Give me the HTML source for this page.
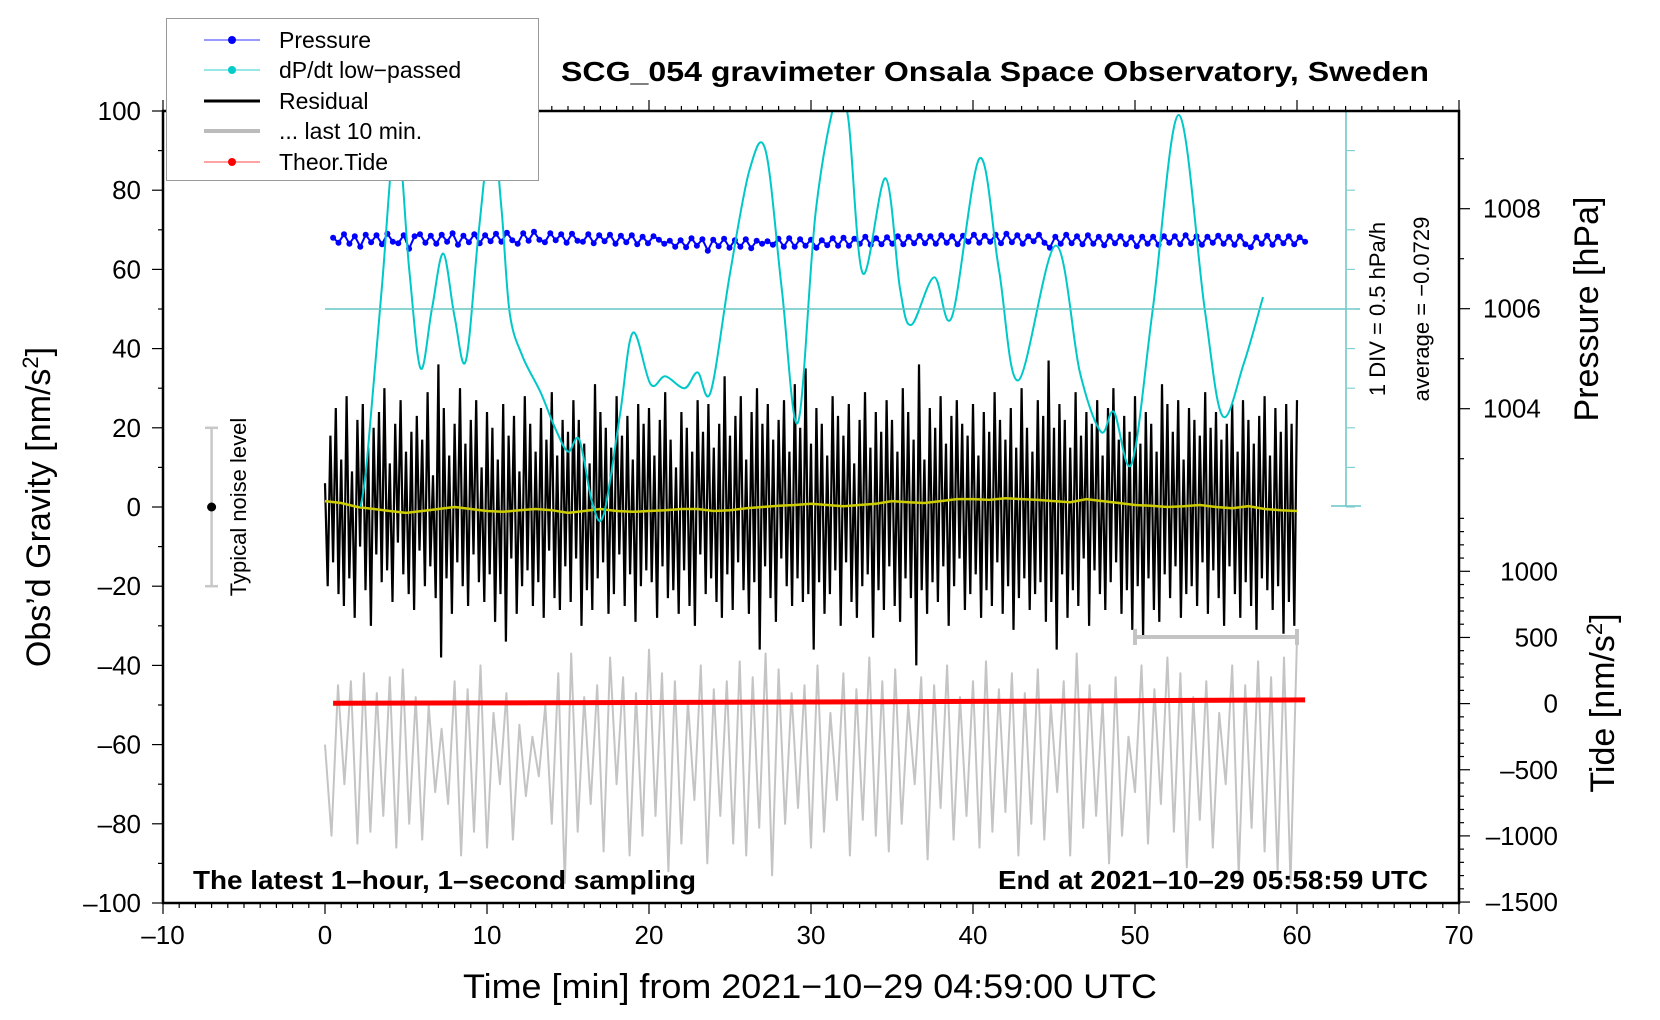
<!DOCTYPE html>
<html><head><meta charset="utf-8"><style>
html,body{margin:0;padding:0;background:#fff;}
svg{display:block;font-family:"Liberation Sans",sans-serif;}
</style></head><body>
<svg id="chart" width="1660" height="1020" viewBox="0 0 1660 1020" xmlns="http://www.w3.org/2000/svg">
<rect x="0" y="0" width="1660" height="1020" fill="#fff"/>
<g id="plot"></g>
<g id="axes"></g>
<text x="995" y="81" text-anchor="middle" font-weight="bold" font-size="28" textLength="868" lengthAdjust="spacingAndGlyphs">SCG_054 gravimeter Onsala Space Observatory, Sweden</text>
<text x="193" y="889" font-weight="bold" font-size="26" textLength="503" lengthAdjust="spacingAndGlyphs">The latest 1–hour, 1–second sampling</text>
<text x="1428" y="889" text-anchor="end" font-weight="bold" font-size="26" textLength="430" lengthAdjust="spacingAndGlyphs">End at 2021–10–29 05:58:59 UTC</text>
<text x="810" y="998" text-anchor="middle" font-size="34" textLength="694" lengthAdjust="spacingAndGlyphs">Time [min] from 2021−10−29 04:59:00 UTC</text>
<text transform="translate(50,507) rotate(-90)" text-anchor="middle" font-size="34">Obs’d Gravity [nm/s<tspan font-size="22" dy="-12">2</tspan><tspan dy="12">]</tspan></text>
<text transform="translate(1598,309) rotate(-90)" text-anchor="middle" font-size="34">Pressure [hPa]</text>
<text transform="translate(1614,703) rotate(-90)" text-anchor="middle" font-size="34">Tide [nm/s<tspan font-size="22" dy="-12">2</tspan><tspan dy="12">]</tspan></text>
<text transform="translate(1385,309) rotate(-90)" text-anchor="middle" font-size="22">1 DIV = 0.5 hPa/h</text>
<text transform="translate(1429,309) rotate(-90)" text-anchor="middle" font-size="22">average = −0.0729</text>
<text transform="translate(246,507) rotate(-90)" text-anchor="middle" font-size="22">Typical noise level</text>
<g>
<rect x="166.5" y="18.5" width="372" height="162" fill="#fff" stroke="#999" stroke-width="1"/>
<line x1="204" y1="40" x2="260" y2="40" stroke="#33f" stroke-width="1"/><circle cx="232" cy="40" r="4" fill="#00f"/>
<text x="279" y="48" font-size="23">Pressure</text>
<line x1="204" y1="70" x2="260" y2="70" stroke="#3cc" stroke-width="1"/><circle cx="232" cy="70" r="4" fill="#0cc"/>
<text x="279" y="78" font-size="23">dP/dt low−passed</text>
<line x1="204" y1="101" x2="260" y2="101" stroke="#000" stroke-width="3"/>
<text x="279" y="109" font-size="23">Residual</text>
<line x1="204" y1="131" x2="260" y2="131" stroke="#bbb" stroke-width="4"/>
<text x="279" y="139" font-size="23">... last 10 min.</text>
<line x1="204" y1="162" x2="260" y2="162" stroke="#f44" stroke-width="1"/><circle cx="232" cy="162" r="4" fill="#f00"/>
<text x="279" y="170" font-size="23">Theor.Tide</text>
</g>
</svg>
<script>
const dpdtTimes=[2.2,2.6,3.5,4.4,5.2,5.9,6.6,7.3,8.0,8.7,9.5,10.3,10.9,11.4,12.2,13.3,14.2,15.0,15.7,16.5,17.2,18.2,19.0,20.1,21.0,22.2,23.0,23.8,25.0,26.2,27.2,28.2,29.2,30.3,31.6,32.3,33.2,34.6,35.5,36.2,37.6,38.7,40.4,41.6,42.8,45.1,46.6,47.9,48.7,49.8,51.1,52.7,54.3,55.4,56.7,57.9];
const dpdtValues=[-2.5,-1.9,0.25,2.25,0.5,-0.75,0,0.7,-0.1,-0.65,1.0,2.3,1.25,-0.05,-0.6,-1.05,-1.5,-1.8,-1.65,-2.45,-2.6,-1.35,-0.3,-0.95,-0.85,-1.0,-0.8,-1.05,0.45,1.75,2.0,0.25,-1.43,1.25,2.7,2.4,0.45,1.65,0.25,-0.2,0.4,-0.1,1.9,0.5,-0.9,0.8,-0.8,-1.55,-1.3,-1.95,0,2.45,0,-1.35,-0.7,0.15];
const residualValues=[6,-20,18,-14,25,-22,12,-25,28,-18,9,-28,22,-10,26,-21,15,-30,20,-12,24,-19,30,-16,11,-24,21,-9,27,-17,
14,-22,19,-26,23,-11,17,-20,29,-15,8,-23,36,-38,25,-18,13,-27,21,-14,30,-20,16,-25,22,-12,27,-19,10,-24,
24,-17,20,-29,12,-22,26,-34,18,-13,23,-27,9,-20,28,-16,21,-25,14,-19,25,-28,17,-11,29,-23,13,-26,22,-15,
19,-24,27,-13,22,-30,16,-21,11,-26,31,-18,24,-14,20,-27,15,-22,28,-12,18,-25,23,-17,12,-29,26,-20,21,-16,
25,-19,13,-28,22,-15,29,-23,17,-21,10,-27,24,-16,20,-25,14,-30,27,-12,19,-22,26,-18,15,-24,21,-28,33,-17,
18,-26,23,-14,28,-21,12,-27,24,-19,30,-36,21,-15,26,-23,17,-29,22,-13,27,-20,14,-25,31,-18,20,-24,35,-22,
16,-36,25,-19,21,-27,13,-22,28,-16,23,-30,18,-14,26,-24,11,-28,22,-20,29,-17,15,-33,24,-21,19,-26,27,-15,
22,-25,14,-29,30,-18,24,-23,17,-40,36,-21,12,-27,25,-19,20,-24,28,-15,16,-30,23,-20,27,-13,21,-26,18,-22,
26,-17,13,-28,24,-21,19,-25,29,-14,22,-27,17,-20,25,-31,15,-23,30,-18,20,-26,14,-22,27,-19,23,-29,37,-24,
20,-36,26,-17,22,-28,15,-21,29,-25,18,-13,24,-30,21,-16,27,-22,13,-26,25,-19,30,-14,17,-27,23,-21,19,-31,
28,-20,16,-33,24,-18,21,-26,14,-29,31,-17,26,-23,19,-15,27,-28,12,-22,25,-20,22,-25,18,-14,29,-27,20,-16,
24,-23,17,-30,21,-15,26,-22,14,-28,27,-19,22,-25,16,-31,23,-18,28,-21,13,-26,25,-20,19,-32,26,-24,21,-30,27];
const smoothValues=[1.5,1,0,-0.5,-1,-1.5,-1,-0.5,0,-0.5,-1,-1.2,-0.8,-0.5,-0.8,-1.5,-1,-0.5,-1,-1.2,-1,-0.8,-0.5,-0.5,-1,-0.8,-0.3,0,0.3,0.5,0.8,0.5,0.2,0.5,0.8,1.5,1.2,1.0,1.5,2,2,1.8,2.2,2,1.8,1.5,1.2,2,1.5,1,0.5,0.3,0,0.2,0.5,0,-0.3,0.2,-0.5,-0.8,-1];
const last10Values=[-60,-83,-45,-70,-44,-85,-42,-82,-47,-78,-43,-86,-41,-80,-48,-84,-50,-72,-56,-75,-44,-88,-46,-82,-40,-86,-52,-70,-47,-84,-55,-73,-58,-68,-50,-80,-42,-95,-37,-82,-48,-75,-45,-87,-38,-70,-43,-88,-47,-83,-36,-78,-42,-92,-44,-85,-49,-74,-40,-90,-46,-78,-44,-85,-39,-88,-43,-81,-37,-93,-41,-80,-47,-76,-45,-86,-40,-82,-52,-74,-42,-88,-46,-79,-38,-83,-44,-87,-41,-80,-50,-70,-43,-89,-45,-76,-40,-84,-48,-78,-44,-86,-39,-82,-46,-77,-42,-88,-47,-80,-41,-84,-50,-72,-44,-88,-37,-81,-45,-78,-49,-90,-43,-83,-58,-72,-40,-85,-46,-75,-38,-82,-42,-91,-48,-79,-44,-86,-52,-70,-40,-93,-45,-81,-39,-87,-43,-92,-38,-95,-33];
const pressureValues=[1007.42,1007.32,1007.49,1007.30,1007.45,1007.24,1007.48,1007.33,1007.47,1007.29,1007.50,1007.34,1007.31,1007.47,1007.20,1007.45,1007.49,1007.32,1007.46,1007.30,1007.48,1007.34,1007.51,1007.28,1007.46,1007.33,1007.49,1007.31,1007.47,1007.35,
1007.50,1007.34,1007.52,1007.37,1007.30,1007.51,1007.36,1007.54,1007.38,1007.33,1007.51,1007.37,1007.49,1007.32,1007.50,1007.36,1007.34,1007.49,1007.31,1007.47,1007.35,1007.48,1007.30,1007.46,1007.33,1007.47,1007.29,1007.44,1007.31,1007.45,
1007.38,1007.30,1007.36,1007.24,1007.37,1007.23,1007.41,1007.26,1007.39,1007.16,1007.38,1007.25,1007.40,1007.22,1007.37,1007.24,1007.39,1007.21,1007.36,1007.30,1007.35,1007.28,1007.40,1007.24,1007.41,1007.24,1007.39,1007.26,1007.38,1007.22,
1007.37,1007.27,1007.41,1007.26,1007.42,1007.26,1007.40,1007.30,1007.44,1007.28,1007.41,1007.29,1007.43,1007.30,1007.45,1007.29,1007.44,1007.31,1007.46,1007.31,1007.45,1007.30,1007.47,1007.32,1007.45,1007.29,1007.46,1007.34,1007.48,1007.32,
1007.46,1007.34,1007.48,1007.31,1007.50,1007.33,1007.47,1007.30,1007.45,1007.35,1007.48,1007.32,1007.22,1007.44,1007.30,1007.48,1007.31,1007.45,1007.29,1007.47,1007.30,1007.44,1007.27,1007.45,1007.31,1007.45,1007.29,1007.43,1007.25,1007.44,
1007.30,1007.44,1007.28,1007.45,1007.32,1007.45,1007.29,1007.47,1007.31,1007.45,1007.28,1007.44,1007.32,1007.46,1007.30,1007.44,1007.28,1007.45,1007.29,1007.23,1007.43,1007.30,1007.46,1007.28,1007.44,1007.31,1007.45,1007.29,1007.43,1007.34];
const tideTimes=[0.5,10,20,30,40,50,60.5];
const tideValues=[2,5,8,12,17,22,28];
const xTicks=[-10,0,10,20,30,40,50,60,70];
const gTicks=[-100,-80,-60,-40,-20,0,20,40,60,80,100];
const pTicks=[1004,1006,1008];
const tTicks=[-1500,-1000,-500,0,500,1000];

const NS='http://www.w3.org/2000/svg';
const X=t=>163+(t+10)*16.2;
const YG=g=>507-g*3.96;
const YP=p=>308.7-(p-1006)*50;
const YT=v=>703.6-v*0.1323;
const YC=v=>YG(50+v*20);
const plot=document.getElementById('plot'), axes=document.getElementById('axes');
function mk(tag,attrs,parent){const e=document.createElementNS(NS,tag);for(const k in attrs)e.setAttribute(k,attrs[k]);parent.appendChild(e);return e;}

const defs=mk('defs',{},plot);
const cp=mk('clipPath',{id:'clip'},defs);
mk('rect',{x:163,y:111,width:1296,height:792},cp);
const pg=mk('g',{'clip-path':'url(#clip)'},plot);

let d='';last10Values.forEach((v,i)=>{const t=i*60/(last10Values.length-1);d+=(i?'L':'M')+X(t).toFixed(1)+','+YG(v).toFixed(1);});
let el=mk('path',{d:d,fill:'none',stroke:'#c4c4c4','stroke-width':2,'stroke-linejoin':'round'},pg);



d='';residualValues.forEach((v,i)=>{const t=i*60/(residualValues.length-1);d+=(i?'L':'M')+X(t).toFixed(1)+','+YG(v).toFixed(1);});
el=mk('path',{d:d,fill:'none',stroke:'#000','stroke-width':2.2},pg);



d='';smoothValues.forEach((v,i)=>{const t=i*60/(smoothValues.length-1);d+=(i?'L':'M')+X(t).toFixed(1)+','+YG(v).toFixed(1);});
el=mk('path',{d:d,fill:'none',stroke:'#cccc00','stroke-width':2.5},pg);



d='';tideTimes.forEach((t,i)=>{d+=(i?'L':'M')+X(t).toFixed(1)+','+YT(tideValues[i]).toFixed(1);});
el=mk('path',{d:d,fill:'none',stroke:'#f00','stroke-width':5},pg);



el=mk('line',{x1:X(0),y1:YC(0),x2:1360,y2:YC(0),stroke:'#66c6c6','stroke-width':1.5},plot);


el=mk('line',{x1:1346,y1:111,x2:1346,y2:506,stroke:'#66c6c6','stroke-width':1.5},plot);


mk('line',{x1:1331,y1:506,x2:1361,y2:506,stroke:'#66c6c6','stroke-width':1.5},plot);
for(let k=0;k<=10;k++){const y=111+k*39.6;mk('line',{x1:1346,y1:y,x2:1355,y2:y,stroke:'#88d0d0','stroke-width':1.2},plot);}

d='';pressureValues.forEach((p,i)=>{const t=0.5+i*60/(pressureValues.length-1);d+=(i?'L':'M')+X(t).toFixed(1)+','+YP(p).toFixed(1);});
el=mk('path',{d:d,fill:'none',stroke:'#00f','stroke-width':2},pg);


pressureValues.forEach((p,i)=>{const t=0.5+i*60/(pressureValues.length-1);
 const c=mk('circle',{cx:X(t).toFixed(1),cy:YP(p).toFixed(1),r:3,fill:'#00f'},pg);
 
 
});

const pts=dpdtTimes.map((t,i)=>[X(t),YC(dpdtValues[i])]);
d='M'+pts[0][0]+','+pts[0][1];
for(let i=0;i<pts.length-1;i++){const p0=pts[Math.max(0,i-1)],p1=pts[i],p2=pts[i+1],p3=pts[Math.min(pts.length-1,i+2)];
 const c1=[p1[0]+(p2[0]-p0[0])/6,p1[1]+(p2[1]-p0[1])/6],c2=[p2[0]-(p3[0]-p1[0])/6,p2[1]-(p3[1]-p1[1])/6];
 d+='C'+c1.map(v=>v.toFixed(1)).join(',')+' '+c2.map(v=>v.toFixed(1)).join(',')+' '+p2.map(v=>v.toFixed(1)).join(',');}
el=mk('path',{d:d,fill:'none',stroke:'#00c8c8','stroke-width':2},pg);



el=mk('g',{stroke:'#c8c8c8','stroke-width':2.5},plot);


mk('line',{x1:211.6,y1:YG(20),x2:211.6,y2:YG(-20)},el);
mk('line',{x1:205,y1:YG(20),x2:218,y2:YG(20)},el);
mk('line',{x1:205,y1:YG(-20),x2:218,y2:YG(-20)},el);
mk('circle',{cx:211.6,cy:YG(0),r:4.5,fill:'#000',stroke:'none'},plot);

el=mk('g',{stroke:'#c4c4c4','stroke-width':4},plot);


mk('line',{x1:X(50),y1:637,x2:X(60),y2:637},el);
mk('line',{x1:X(50),y1:629,x2:X(50),y2:645},el);
mk('line',{x1:X(60),y1:629,x2:X(60),y2:645},el);

mk('rect',{x:163,y:111,width:1296,height:792,fill:'none',stroke:'#000','stroke-width':2.5},axes);
for(let t=-10;t<=70;t++){const major=t%10===0;const x=X(t);
 mk('line',{x1:x,y1:903,x2:x,y2:903+(major?11:5),stroke:'#000','stroke-width':1.2},axes);
 mk('line',{x1:x,y1:111,x2:x,y2:111-(major?11:5),stroke:'#000','stroke-width':1.2},axes);}
xTicks.forEach(t=>{const e=mk('text',{x:X(t),y:944,'text-anchor':'middle','font-size':26},axes);e.textContent=String(t).replace('-','–');
 
 });
for(let g=-100;g<=100;g+=10){const major=g%20===0;const y=YG(g);
 mk('line',{x1:163,y1:y,x2:163-(major?11:5),y2:y,stroke:'#000','stroke-width':1.2},axes);}
gTicks.forEach(g=>{const e=mk('text',{x:141,y:YG(g)+9,'text-anchor':'end','font-size':26},axes);e.textContent=String(g).replace('-','–');
 
 });
for(let p=1003;p<=1009;p++){const y=YP(p);const major=p%2===0;
 mk('line',{x1:1459,y1:y,x2:1459+(major?11:5),y2:y,stroke:'#000','stroke-width':1.2},axes);}
pTicks.forEach(p=>{const e=mk('text',{x:1483,y:YP(p)+9,'font-size':26},axes);e.textContent=p;
 
 });
for(let v=-1500;v<=1400;v+=100){const y=YT(v);const major=v%500===0;
 mk('line',{x1:1459,y1:y,x2:1459+(major?11:5),y2:y,stroke:'#000','stroke-width':1.2},axes);}
tTicks.forEach(v=>{const e=mk('text',{x:1558,y:YT(v)+9,'text-anchor':'end','font-size':26},axes);e.textContent=String(v).replace('-','–');
 
 });
</script>
</body></html>
